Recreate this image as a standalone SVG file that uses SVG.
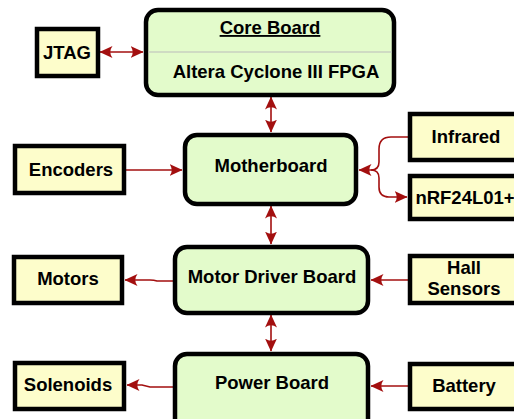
<svg xmlns="http://www.w3.org/2000/svg" width="514" height="419" viewBox="0 0 514 419">
<defs>
<marker id="ah" viewBox="0 0 13 12" refX="12.5" refY="6" markerWidth="13" markerHeight="12" markerUnits="userSpaceOnUse" orient="auto-start-reverse">
<path d="M0,0 L13,6 L0,12 Q4.5,6 0,0 Z" fill="#A30F0F"/>
</marker>
</defs>
<style>
.y{fill:#FDFDCB;stroke:#000;stroke-width:4.5}
.g{fill:#E3FBCB;stroke:#000;stroke-width:4.5}
.t{font-family:"Liberation Sans",Arial,Helvetica,sans-serif;font-weight:bold;font-size:18.5px;fill:#000;text-anchor:middle}
.c{fill:none;stroke:#A30F0F;stroke-width:1.6}
</style>
<g id="connectors">
<path class="c" d="M100,52 H143" marker-start="url(#ah)" marker-end="url(#ah)"/>
<path class="c" d="M271,97 V132" marker-start="url(#ah)" marker-end="url(#ah)"/>
<path class="c" d="M271,206 V244" marker-start="url(#ah)" marker-end="url(#ah)"/>
<path class="c" d="M271,315 V351" marker-start="url(#ah)" marker-end="url(#ah)"/>
<path class="c" d="M126,170 H182" marker-end="url(#ah)"/>
<path class="c" d="M408,137 H391 Q379,137 379,149 V162 Q379,170 371,170 H359" marker-end="url(#ah)"/>
<path class="c" d="M371,170 Q379,170 379,178 V187 Q379,197 389,197 H407" marker-end="url(#ah)"/>
<path class="c" d="M173,281 H157 Q154,280 150,280 H125" marker-end="url(#ah)"/>
<path class="c" d="M408,280 H371" marker-end="url(#ah)"/>
<path class="c" d="M173,387 H150 Q146,386 142,385 H127" marker-end="url(#ah)"/>
<path class="c" d="M408,386 H371" marker-end="url(#ah)"/>
</g>
<g id="jtag"><rect class="y" x="37" y="29" width="61" height="47"/><text class="t" x="67" y="59">JTAG</text></g>
<g id="core-board">
<rect class="g" x="146" y="10" width="248" height="85" rx="12"/>
<line x1="148" y1="52" x2="392" y2="52" stroke="#BBBBBB" stroke-width="1"/>
<text class="t" x="270" y="34" text-decoration="underline">Core Board</text>
<text class="t" x="276" y="78">Altera Cyclone III FPGA</text>
</g>
<g id="encoders"><rect class="y" x="15" y="146" width="109" height="47"/><text class="t" x="71" y="176">Encoders</text></g>
<g id="motherboard"><rect class="g" x="185" y="135" width="171" height="69" rx="12"/><text class="t" x="271" y="172">Motherboard</text></g>
<g id="infrared"><rect class="y" x="410" y="114" width="112" height="46"/><text class="t" x="466" y="143">Infrared</text></g>
<g id="nrf"><rect class="y" x="410" y="176" width="112" height="43"/><text class="t" x="465" y="204">nRF24L01+</text></g>
<g id="motors"><rect class="y" x="14" y="257" width="108" height="46"/><text class="t" x="68" y="285">Motors</text></g>
<g id="motor-driver"><rect class="g" x="175" y="247" width="193" height="66" rx="12"/><text class="t" x="272" y="283">Motor Driver Board</text></g>
<g id="hall"><rect class="y" x="410" y="256" width="112" height="47"/><text class="t" x="464" y="274">Hall</text><text class="t" x="464" y="295">Sensors</text></g>
<g id="solenoids"><rect class="y" x="15" y="363" width="109" height="46"/><text class="t" x="68" y="391">Solenoids</text></g>
<g id="power-board"><rect class="g" x="175" y="354" width="193" height="80" rx="12"/><text class="t" x="272" y="389">Power Board</text></g>
<g id="battery"><rect class="y" x="410" y="364" width="112" height="45"/><text class="t" x="464" y="392">Battery</text></g>
</svg>
